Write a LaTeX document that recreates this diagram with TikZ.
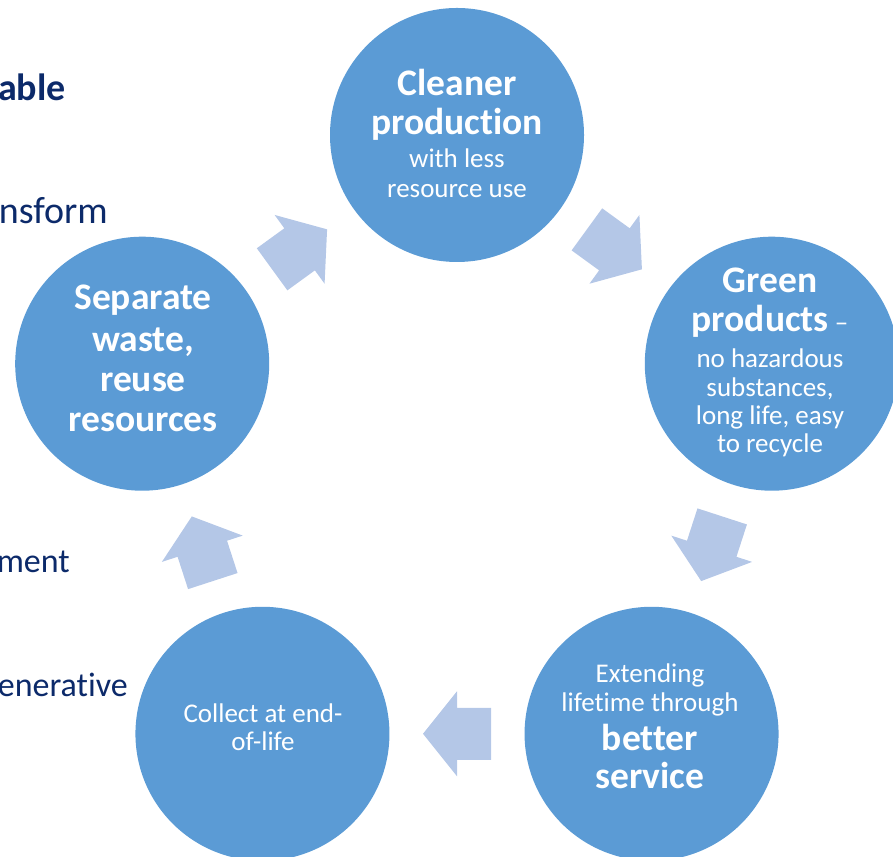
\documentclass[tikz,border=0pt]{standalone}
\usepackage{fontspec}
\setmainfont[Ligatures=NoCommon,Contextuals=NoAlternate]{Carlito}
\usetikzlibrary{calc}
\definecolor{circfill}{HTML}{5B9BD5}
\definecolor{arrfill}{HTML}{B4C7E7}
\definecolor{navytext}{HTML}{0C2A6A}
\tikzset{
  x=1pt, y=1pt,
  cyclecirc/.style={circle, fill=circfill, minimum size=254pt, inner sep=0pt, draw=none},
  bigline/.style={anchor=base, text=white, inner sep=0pt, font=\fontsize{37.5}{40}\selectfont\bfseries},
  smallline/.style={anchor=base, text=white, inner sep=0pt, font=\fontsize{27}{30}\selectfont},
  sidetext/.style={anchor=base east, text=navytext, inner sep=0pt, font=\fontsize{38}{44}\selectfont},
  sidetextsmall/.style={anchor=base east, text=navytext, inner sep=0pt, font=\fontsize{34}{40}\selectfont},
  cyclearrow/.pic={\fill[arrfill] (-34,-26) -- (0,-26) -- (0,-42.5) -- (34,0) -- (0,42.5) -- (0,26) -- (-34,26) -- cycle;}
}
\begin{document}
\begin{tikzpicture}
\useasboundingbox (0,0) rectangle (893,856);
\clip (0,0) rectangle (893,856);
\coordinate (C) at (457,390);
% side texts (partially cut off at the left edge, as in the reference)
\node[sidetext, font=\fontsize{38}{44}\selectfont\bfseries] (s1) at (66,755) {able};
\node[sidetext] (s2) at (108,632) {nsform};
\node[sidetextsmall] (s3) at (70,283) {ment};
\node[sidetextsmall] (s4) at (128,159) {enerat\kern0pt ive};
% circles
\node[cyclecirc] (top) at ($(C)+(90:331)$) {};
\node[cyclecirc] (right) at ($(C)+(18:331)$) {};
\node[cyclecirc] (bright) at ($(C)+(-54:331)$) {};
\node[cyclecirc] (bleft) at ($(C)+(-126:331)$) {};
\node[cyclecirc] (left) at ($(C)+(162:331)$) {};
% arrows
\path (C) ++(54:267.8) pic[rotate=-36] {cyclearrow};
\path (C) ++(-18:267.8) pic[rotate=-108] {cyclearrow};
\path (C) ++(-90:267.8) pic[rotate=180] {cyclearrow};
\path (C) ++(-162:267.8) pic[rotate=108] {cyclearrow};
\path (C) ++(126:267.8) pic[rotate=36] {cyclearrow};
% top circle text
\node[bigline] (t1) at (457,760) {Cleaner};
\node[bigline] (t2) at (457,721) {production};
\node[smallline] (t3) at (457,688) {with less};
\node[smallline] (t4) at (457,658) {resource use};
% right circle text
\node[bigline] (r1) at (770,563) {Green};
\node[smallline] (r2) at (770,524) {{\fontsize{37.5}{40}\selectfont\bfseries products} –};
\node[smallline] (r3) at (770,488) {no hazardous};
\node[smallline] (r4) at (770,459) {substances,};
\node[smallline] (r5) at (770,431) {long life, easy};
\node[smallline] (r6) at (770,403) {to recycle};
% bottom right text
\node[smallline] (b1) at (650,173) {Extending};
\node[smallline] (b2) at (650,144) {lifet\kern0pt ime through};
\node[bigline] (b3) at (650,106) {better};
\node[bigline] (b4) at (650,68) {service};
% bottom left text
\node[smallline] (l1) at (263,133) {Collect at end-};
\node[smallline] (l2) at (263,106) {of-life};
% left circle text
\node[bigline] (p1) at (143,546) {Separate};
\node[bigline] (p2) at (143,504) {waste,};
\node[bigline] (p3) at (143,464) {reuse};
\node[bigline] (p4) at (143,424) {resources};
\end{tikzpicture}
\end{document}
